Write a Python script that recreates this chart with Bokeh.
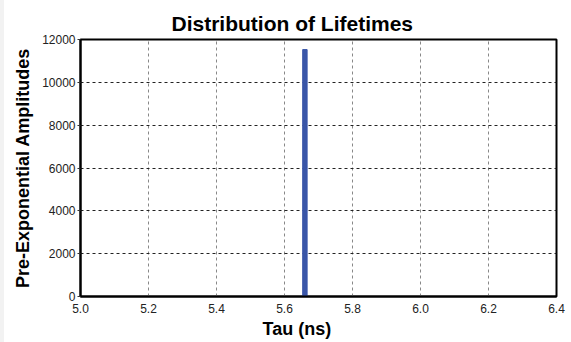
from bokeh.plotting import figure
from bokeh.models import Range1d, FixedTicker, Spacer, Title, PrintfTickFormatter
from bokeh.layouts import row
from bokeh.embed import file_html
from bokeh.resources import INLINE

# Lifetime distribution: one dominant component
tau_ns = [5.66]
amplitudes = [11530]

x_ticks = [5.0, 5.2, 5.4, 5.6, 5.8, 6.0, 6.2, 6.4]
y_ticks = [0, 2000, 4000, 6000, 8000, 10000, 12000]

FONT = "Liberation Sans"

p = figure(width=567, height=342, output_backend="svg", toolbar_location=None,
           x_range=Range1d(5.0, 6.4), y_range=Range1d(0, 12000),
           title="Distribution of Lifetimes",
           min_border_left=76, min_border_right=15, min_border_top=39, min_border_bottom=46)

p.title.align = "left"
p.title.offset = 91
p.title.text_font = FONT
p.title.text_font_size = "21px"
p.title.text_font_style = "bold"
p.title.text_color = "black"

p.vbar(x=tau_ns, top=amplitudes, width=0.013, color="#3a56a8")

p.xaxis.ticker = FixedTicker(ticks=x_ticks)
p.yaxis.ticker = FixedTicker(ticks=y_ticks)
p.xaxis.formatter = PrintfTickFormatter(format="%.1f")
p.yaxis.axis_label = "Pre-Exponential Amplitudes"
for ax in (p.xaxis, p.yaxis):
    ax.axis_label_text_font = FONT
    ax.axis_label_text_font_size = "18px"
    ax.axis_label_text_font_style = "bold"
    ax.axis_label_text_color = "black"
    ax.major_label_text_font = FONT
    ax.major_label_text_font_size = "12px"
    ax.major_label_text_color = "#222222"
    ax.minor_tick_line_color = None
    ax.axis_line_color = "black"
    ax.axis_line_width = 2
    ax.major_tick_line_color = "#333333"
    ax.major_tick_in = 0
    ax.major_tick_out = 3
p.xaxis.major_tick_line_color = None
p.xaxis.major_label_standoff = 4
p.yaxis.major_label_standoff = 2
p.yaxis.axis_label_standoff = 6

# x-axis caption, placed as a below-title so it can be shifted horizontally
x_caption = Title(text="Tau (ns)", align="left", offset=182, text_font=FONT,
                  text_font_size="18px", text_font_style="bold", text_color="black",
                  standoff=2)
p.add_layout(x_caption, "below")

p.xgrid.grid_line_color = "#888888"
p.xgrid.grid_line_dash = "3 3"
p.ygrid.grid_line_color = "#222222"
p.ygrid.grid_line_dash = "3 3"

p.outline_line_color = "black"
p.outline_line_width = 2
p.outline_line_alpha = 1
p.background_fill_color = "white"
p.border_fill_color = "white"

edge = Spacer(width=4, height=342, styles={"background-color": "#f2f2f2"})
layout = row(edge, p, spacing=0)

open("out.html", "w").write(file_html(layout, INLINE))
